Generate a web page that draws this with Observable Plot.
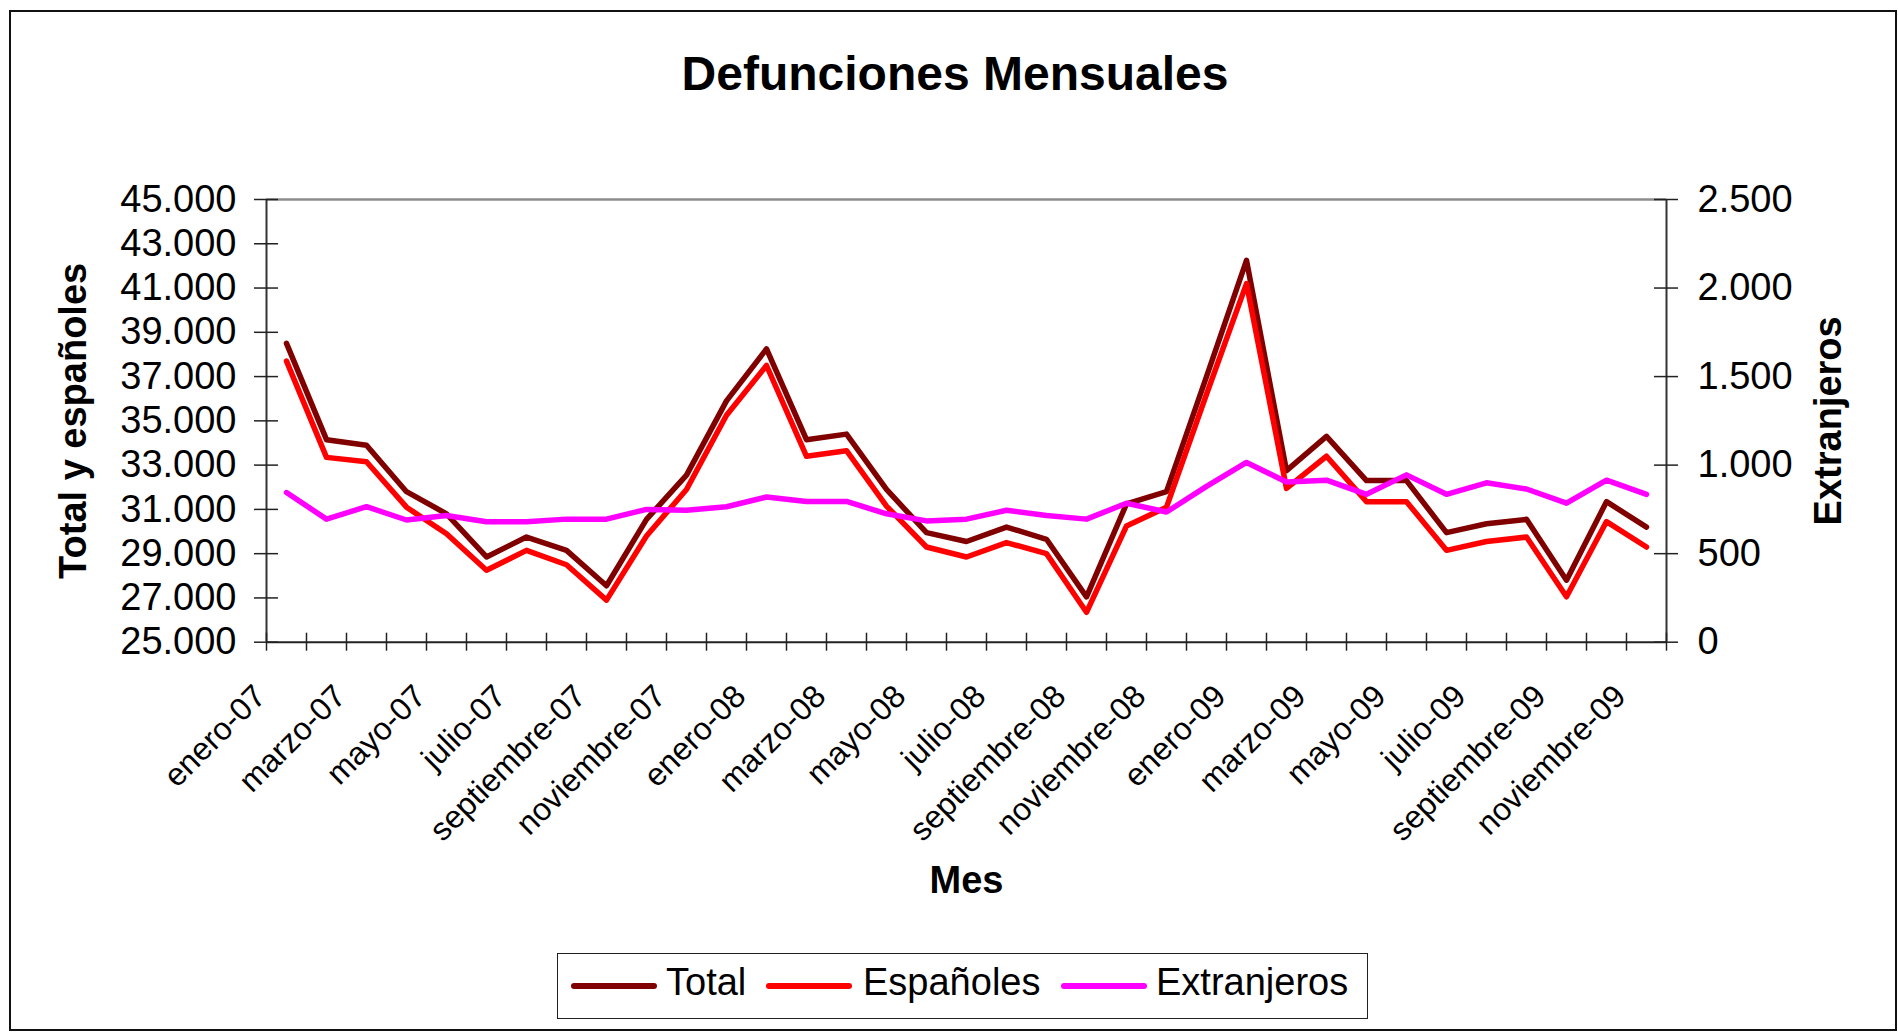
<!DOCTYPE html>
<html>
<head>
<meta charset="utf-8">
<script src="https://cdn.jsdelivr.net/npm/d3@7"></script>
<script src="https://cdn.jsdelivr.net/npm/@observablehq/plot@0.6"></script>
<style>
  html, body { margin: 0; padding: 0; background: #fff; }
  #wrap { position: relative; width: 1898px; height: 1032px; overflow: hidden; font-family: "Liberation Sans", Arial, sans-serif; color: #000; }
  #border { position: absolute; left: 9px; top: 10px; width: 1888px; height: 1021px; border: 2px solid #111; box-sizing: border-box; }
  #title { position: absolute; left: 6px; width: 1898px; top: 50px; text-align: center; font-size: 48px; line-height: 48px; font-weight: bold; }
  #chart { position: absolute; left: 0; top: 140px; }
  #legend { position: absolute; left: 557px; top: 953px; width: 811px; height: 66px; border: 1.5px solid #222; box-sizing: border-box; background: #fff; }
  .sw { position: absolute; top: 29px; height: 5.5px; width: 86px; border-radius: 3px; }
  .lt { position: absolute; top: -4px; line-height: 64px; font-size: 38px; white-space: nowrap; }
</style>
</head>
<body>
<div id="wrap">
  <div id="border"></div>
  <div id="title">Defunciones Mensuales</div>
  <div id="chart"></div>
  <div id="legend"></div>
</div>
<script>
// ---- data ----
const months = [
  "enero-07","febrero-07","marzo-07","abril-07","mayo-07","junio-07","julio-07","agosto-07","septiembre-07","octubre-07","noviembre-07","diciembre-07",
  "enero-08","febrero-08","marzo-08","abril-08","mayo-08","junio-08","julio-08","agosto-08","septiembre-08","octubre-08","noviembre-08","diciembre-08",
  "enero-09","febrero-09","marzo-09","abril-09","mayo-09","junio-09","julio-09","agosto-09","septiembre-09","octubre-09","noviembre-09"
];
const total = [38500, 34150, 33900, 31800, 30800, 28850, 29750, 29150, 27550, 30550, 32550, 35900,
               38250, 34150, 34400, 31900, 29950, 29550, 30200, 29650, 27050, 31250, 31800, 37000,
               42250, 32750, 34300, 32300, 32300, 29950, 30350, 30550, 27800, 31350, 30200];
const espanoles = [37700, 33350, 33150, 31100, 29900, 28250, 29150, 28500, 26900, 29800, 31900, 35250,
                   37500, 33400, 33650, 31150, 29300, 28850, 29500, 29000, 26350, 30250, 31100, 36200,
                   41200, 31950, 33400, 31350, 31350, 29150, 29550, 29750, 27050, 30450, 29300];
const extranjeros = [845, 695, 765, 690, 715, 680, 680, 695, 695, 750, 745, 765,
                     820, 795, 795, 725, 685, 695, 745, 715, 695, 785, 735, 880,
                     1015, 905, 915, 835, 945, 835, 900, 865, 785, 915, 835];
const leftTicks = [25000, 27000, 29000, 31000, 33000, 35000, 37000, 39000, 41000, 43000, 45000];
const rightTicks = [0, 500, 1000, 1500, 2000, 2500];
const seriesNames = ["Total", "Españoles", "Extranjeros"];
const seriesColors = ["#800000", "#ff0000", "#ff00ff"];

// ---- helpers ----
const leftDomain = [leftTicks[0], leftTicks[leftTicks.length - 1]];
const rightDomain = [rightTicks[0], rightTicks[rightTicks.length - 1]];
const toLeft = v => leftDomain[0] + (v - rightDomain[0]) * (leftDomain[1] - leftDomain[0]) / (rightDomain[1] - rightDomain[0]);
const fromLeft = v => rightDomain[0] + (v - leftDomain[0]) * (rightDomain[1] - rightDomain[0]) / (leftDomain[1] - leftDomain[0]);
const es = d3.formatLocale({decimal: ",", thousands: ".", grouping: [3], currency: ["", " €"]});
const fmt = es.format(",d");

const rows = months.map((m, i) => ({i, m, total: total[i], esp: espanoles[i], ext: extranjeros[i]}));
const xMin = -0.5, xMax = months.length - 0.5;
const boundaries = d3.range(months.length + 1).map(k => k - 0.5);
const labelIdx = d3.range(0, months.length, 2);

const FS = 38;
const LW = 5.5;
const plot = Plot.plot({
  width: 1898,
  height: 800,
  marginLeft: 266,
  marginRight: 232,
  marginTop: 59,
  marginBottom: 298.3,
  style: {fontFamily: '"Liberation Sans", Arial, sans-serif', background: "transparent", overflow: "visible", color: "#000"},
  x: {type: "linear", domain: [xMin, xMax], label: null},
  y: {domain: leftDomain, label: null},
  marks: [
    // plot area frame lines
    Plot.ruleY([leftDomain[1]], {stroke: "#8c8c8c", strokeWidth: 2.5}),
    Plot.ruleX([xMin], {stroke: "#333", strokeWidth: 2}),
    Plot.ruleX([xMax], {stroke: "#333", strokeWidth: 2}),
    Plot.ruleY([leftDomain[0]], {stroke: "#222", strokeWidth: 2}),
    // tick marks (crossing)
    Plot.ruleX(boundaries, {x: d => d, y1: leftDomain[0], y2: leftDomain[0], insetTop: -9, insetBottom: -9, stroke: "#222", strokeWidth: 1.5}),
    Plot.ruleY(leftTicks, {y: d => d, x1: xMin, x2: xMin, insetLeft: -12, insetRight: -12, stroke: "#222", strokeWidth: 1.5}),
    Plot.ruleY(rightTicks.map(toLeft), {y: d => d, x1: xMax, x2: xMax, insetLeft: -12, insetRight: -12, stroke: "#222", strokeWidth: 1.5}),
    // axes labels
    Plot.axisY(leftTicks, {anchor: "left", tickSize: 0, tickPadding: 30, fontSize: FS, tickFormat: fmt, label: null}),
    Plot.axisY(rightTicks.map(toLeft), {anchor: "right", tickSize: 0, tickPadding: 31, fontSize: FS, tickFormat: v => fmt(Math.round(fromLeft(v))), label: null}),
    Plot.axisX(labelIdx, {anchor: "bottom", tickSize: 0, tickPadding: 0, tickRotate: -45, textAnchor: "end", lineAnchor: "bottom", dx: -19, dy: 56, fontSize: 32, tickFormat: i => months[i], label: null}),
    // axis titles
    Plot.text(["Total y españoles"], {text: d => d, frameAnchor: "left", textAnchor: "middle", lineAnchor: "middle", dx: -193, rotate: -90, fontSize: FS, fontWeight: "bold"}),
    Plot.text(["Extranjeros"], {text: d => d, frameAnchor: "right", textAnchor: "middle", lineAnchor: "middle", dx: 162, rotate: -90, fontSize: FS, fontWeight: "bold"}),
    Plot.text(["Mes"], {text: d => d, frameAnchor: "bottom", textAnchor: "middle", lineAnchor: "middle", dy: 239, fontSize: FS, fontWeight: "bold"}),
    // series
    Plot.line(rows, {x: "i", y: "total", stroke: seriesColors[0], strokeWidth: LW, strokeLinejoin: "round", strokeLinecap: "round"}),
    Plot.line(rows, {x: "i", y: "esp", stroke: seriesColors[1], strokeWidth: LW, strokeLinejoin: "round", strokeLinecap: "round"}),
    Plot.line(rows, {x: "i", y: d => toLeft(d.ext), stroke: seriesColors[2], strokeWidth: LW, strokeLinejoin: "round", strokeLinecap: "round"})
  ]
});
document.getElementById("chart").appendChild(plot);

// ---- legend ----
const legend = document.getElementById("legend");
const swLeft = [13, 208, 503];
const txLeft = [108, 305, 598];
seriesNames.forEach((name, k) => {
  const sw = document.createElement("div");
  sw.className = "sw";
  sw.style.left = swLeft[k] + "px";
  sw.style.background = seriesColors[k];
  legend.appendChild(sw);
  const t = document.createElement("div");
  t.className = "lt";
  t.style.left = txLeft[k] + "px";
  t.textContent = name;
  legend.appendChild(t);
});
</script>
</body>
</html>
